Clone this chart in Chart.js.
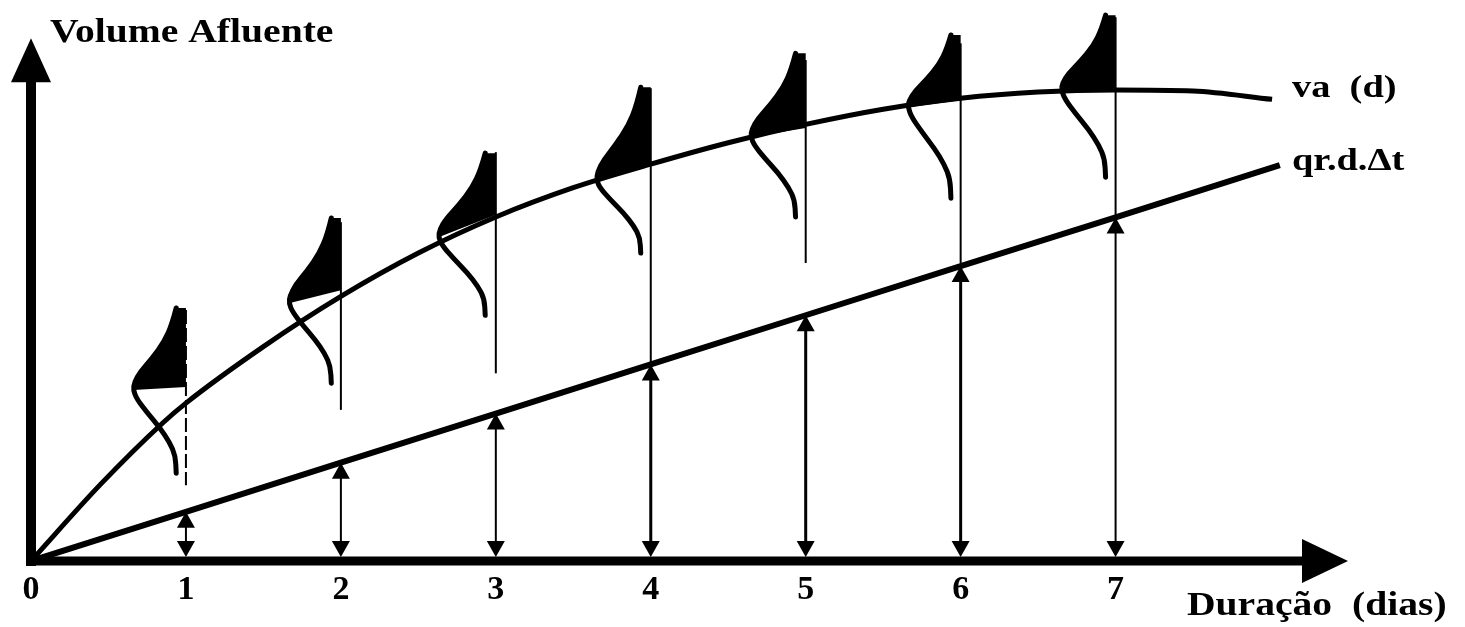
<!DOCTYPE html>
<html>
<head>
    <meta charset="UTF-8">
    <title>Volume Afluente vs Duração</title>
    <script src="https://cdn.jsdelivr.net/npm/chart.js@4.4.1/dist/chart.umd.min.js"></script>
    <style type="text/css">
        body { margin: 0; background: #fff; }
        #wrap { width: 1465px; height: 627px; }
    </style>
</head>
<body>
<div id="wrap">
    <canvas id="vaChart" width="1465" height="627"></canvas>
</div>

<script>
    // days on the x axis and their labels
    const tickDays = [0, 1, 2, 3, 4, 5, 6, 7];
    const tickLabels = ['0', '1', '2', '3', '4', '5', '6', '7'];

    // va(d) curve (x in days, y in volume units 0..100)
    const vaX = [0, 0.45, 0.85, 1, 1.5, 2, 2.5, 3, 3.5, 4, 4.5, 5, 5.5, 6, 6.5, 7, 7.5, 8.01];
    const vaY = [0, 14.7, 26.4, 30.2, 41.0, 50.6, 58.9, 65.8, 71.4, 75.9, 80.0, 83.5, 86.4, 88.5, 89.7, 90.1, 89.9, 88.3];

    // qr.d.Δt straight line
    const qrX = [0, 1, 2, 3, 4, 5, 6, 7, 8.06];
    const qrY = [0, 9.4, 18.8, 28.2, 37.6, 47.0, 56.4, 65.7, 75.7];

    // distribution sketches at days 1..7
    const glyphDays   = [1, 2, 3, 4, 5, 6, 7];
    const glyphTop    = [48.4, 65.6, 78.0, 90.6, 97.1, 100.6, 104.4];
    const glyphMode   = [32.7, 49.3, 61.9, 72.8, 81.1, 86.8, 90.1];
    const glyphBottom = [16.8, 34.0, 47.0, 58.9, 65.8, 69.4, 73.4];
    const glyphWidth  = [0.34, 0.335, 0.37, 0.35, 0.355, 0.34, 0.35];
    const shadeBase   = [33.3, 51.8, 66.2, 75.7, 82.8, 88.1, 90.1];

    // thin vertical guide above each sketch
    const guideTop    = [48.0, 64.8, 78.2, 90.4, 95.8, 99.0, 104.0];
    const guideBottom = [14.5, 28.9, 35.9, 37.6, 57.0, 57.0, 65.7];

    // shape of one sketch: [fraction of width, fraction of height]
    const upperShape = [[0.185, 1], [0.26, 0.81], [0.41, 0.59], [0.65, 0.38], [0.87, 0.22], [0.98, 0.09], [1, 0]];
    const lowerShape = [[1, 0], [0.93, 0.11], [0.74, 0.27], [0.5, 0.45], [0.31, 0.63], [0.2, 0.79], [0.185, 1]];

    const serif = '"Liberation Serif", "DejaVu Serif", serif';

    function smoothPath(ctx, pts) {
        ctx.moveTo(pts[0][0], pts[0][1]);
        for (let i = 1; i < pts.length - 1; i++) {
            const mx = (pts[i][0] + pts[i + 1][0]) / 2;
            const my = (pts[i][1] + pts[i + 1][1]) / 2;
            ctx.quadraticCurveTo(pts[i][0], pts[i][1], mx, my);
        }
        const last = pts[pts.length - 1];
        ctx.lineTo(last[0], last[1]);
    }

    function head(ctx, x, y, dir, half, len) {
        // dir: -1 points up, 1 points down, 2 points right
        ctx.beginPath();
        if (dir === 2) {
            ctx.moveTo(x, y);
            ctx.lineTo(x - len, y - half);
            ctx.lineTo(x - len, y + half);
        } else {
            ctx.moveTo(x, y);
            ctx.lineTo(x - half, y - dir * len);
            ctx.lineTo(x + half, y - dir * len);
        }
        ctx.closePath();
        ctx.fill();
    }

    function stretchedText(ctx, text, x, y, size) {
        ctx.save();
        ctx.font = 'bold ' + size + 'px ' + serif;
        ctx.textBaseline = 'alphabetic';
        ctx.scale(1.2, 1);
        ctx.fillText(text, x / 1.2, y);
        ctx.restore();
    }

    const sketchPlugin = {
        id: 'sketch',
        afterDatasetsDraw(chart) {
            const ctx = chart.ctx;
            const xs = chart.scales.x, ys = chart.scales.y;
            const px = v => xs.getPixelForValue(v);
            const py = v => ys.getPixelForValue(v);
            ctx.save();
            ctx.fillStyle = '#000';
            ctx.strokeStyle = '#000';

            // axes with arrow heads
            const x0 = px(0), y0 = py(0);
            ctx.lineWidth = 10;
            ctx.beginPath();
            ctx.moveTo(x0, y0 + 5);
            ctx.lineTo(x0, py(100) + 40);
            ctx.stroke();
            head(ctx, x0, py(100), -1, 20, 44);
            ctx.lineWidth = 9;
            ctx.beginPath();
            ctx.moveTo(x0 - 5, y0);
            ctx.lineTo(xs.right - 40, y0);
            ctx.stroke();
            head(ctx, xs.right, y0, 2, 22, 46);

            glyphDays.forEach((d, i) => {
                const xd = px(d);
                // double arrow from axis to qr line
                const yTop = py(qrY[qrX.indexOf(d)]);
                ctx.lineWidth = d >= 4 && d <= 6 ? 3 : 2;
                ctx.setLineDash([]);
                ctx.beginPath();
                ctx.moveTo(xd, yTop + 12);
                ctx.lineTo(xd, y0 - 12);
                ctx.stroke();
                head(ctx, xd, yTop, -1, 9, 16);
                head(ctx, xd, y0 - 4, 1, 9, 16);

                // thin guide line
                ctx.lineWidth = 2;
                if (d === 1) ctx.setLineDash([14, 4]);
                ctx.beginPath();
                ctx.moveTo(xd, py(guideTop[i]));
                ctx.lineTo(xd, py(guideBottom[i]));
                ctx.stroke();
                ctx.setLineDash([]);

                // distribution sketch
                const w = px(d + glyphWidth[i]) - xd;
                const up = upperShape.map(p => [xd - p[0] * w, py(glyphMode[i] + p[1] * (glyphTop[i] - glyphMode[i]))]);
                const lo = lowerShape.map(p => [xd - p[0] * w, py(glyphMode[i] - p[1] * (glyphMode[i] - glyphBottom[i]))]);

                ctx.beginPath();
                smoothPath(ctx, up);
                ctx.lineTo(xd, py(shadeBase[i]));
                ctx.lineTo(xd, up[0][1]);
                ctx.closePath();
                ctx.fill();

                ctx.lineWidth = 5;
                ctx.lineCap = 'round';
                ctx.lineJoin = 'round';
                ctx.beginPath();
                smoothPath(ctx, up.concat(lo.slice(1)));
                ctx.stroke();
                ctx.lineCap = 'butt';
            });

            // texts
            stretchedText(ctx, 'Volume Afluente', 50, 42, 33);
            stretchedText(ctx, 'va  (d)', 1292, 97, 32);
            stretchedText(ctx, 'qr.d.Δt', 1292, 170, 32);
            stretchedText(ctx, 'Duração  (dias)', 1187, 615, 33);
            ctx.restore();
        }
    };

    const ctx = document.getElementById('vaChart').getContext('2d');
    new Chart(ctx, {
        type: 'line',
        data: {
            datasets: [{
                label: 'va (d)',
                data: vaX.map((x, i) => ({ x: x, y: vaY[i] })),
                borderColor: '#000',
                borderWidth: 5,
                pointRadius: 0,
                cubicInterpolationMode: 'monotone',
                fill: false
            }, {
                label: 'qr.d.Δt',
                data: qrX.map((x, i) => ({ x: x, y: qrY[i] })),
                borderColor: '#000',
                borderWidth: 6,
                pointRadius: 0,
                tension: 0,
                fill: false
            }]
        },
        options: {
            responsive: false,
            animation: false,
            layout: { padding: { left: 31, right: 117, top: 12, bottom: 0 } },
            plugins: {
                legend: { display: false },
                tooltip: { enabled: false }
            },
            scales: {
                x: {
                    type: 'linear',
                    min: 0,
                    max: 8.5,
                    grid: { display: false, drawTicks: false },
                    border: { display: false },
                    afterBuildTicks: s => { s.ticks = tickDays.map(v => ({ value: v })); },
                    afterFit: s => { s.height = 66; },
                    ticks: {
                        color: '#000',
                        padding: 9,
                        maxRotation: 0,
                        autoSkip: false,
                        font: { family: serif, size: 34, weight: 'bold' },
                        callback: v => tickLabels[tickDays.indexOf(v)]
                    }
                },
                y: {
                    type: 'linear',
                    display: false,
                    min: 0,
                    max: 105
                }
            }
        },
        plugins: [sketchPlugin]
    });
</script>
</body>
</html>
